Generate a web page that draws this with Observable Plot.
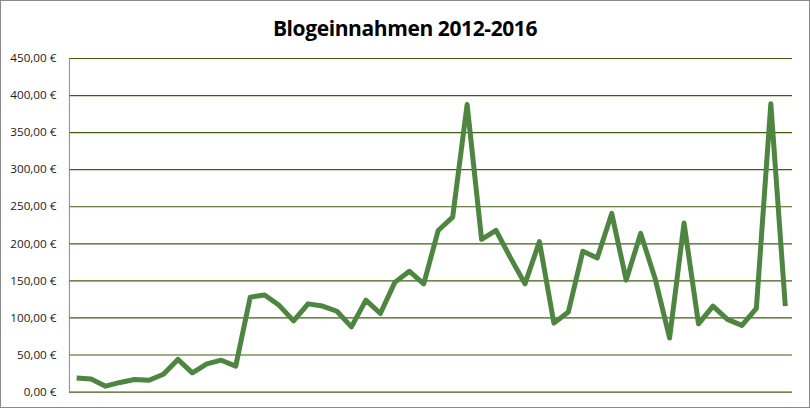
<!DOCTYPE html>
<html>
<head>
<meta charset="utf-8">
<script src="https://cdn.jsdelivr.net/npm/d3@7"></script>
<script src="https://cdn.jsdelivr.net/npm/@observablehq/plot@0.6"></script>
<style>
  html, body { margin: 0; padding: 0; background: #fff; }
  #chart {
    position: relative; width: 810px; height: 408px; box-sizing: border-box;
    border: 1px solid #8a8a8a; background: #fff; overflow: hidden;
  }
  #title {
    position: absolute; left: 0; top: 0; width: 100%; height: 44px;
    text-align: center; font-family: "Open Sans", sans-serif; font-weight: 700;
    font-size: 21px; line-height: 54px; color: #000; letter-spacing: -0.4px;
  }
  #plot { position: absolute; left: -1px; top: 44px; }
</style>
</head>
<body>
<div id="chart">
  <div id="title">Blogeinnahmen 2012-2016</div>
  <div id="plot"></div>
</div>
<script>
// Monthly blog income (€)
const months = d3.range(50);
const income = [19, 17.5, 8, 13, 17, 16, 24, 44, 26, 38, 43, 35,
  128, 131, 117, 96, 119, 116, 109, 88, 124, 106, 148, 163,
  146, 218, 236, 388, 206, 218, 181, 146, 203, 93, 108, 190,
  181, 241, 151, 214, 153, 73, 228, 92, 116, 98, 90, 113,
  389, 116];
const yTicks = [0, 50, 100, 150, 200, 250, 300, 350, 400, 450];

const data = months.map((m, i) => ({ m, v: income[i] }));
const fmt = d => d.toFixed(2).replace(".", ",") + " €";

const chart = Plot.plot({
  width: 810,
  height: 364,
  marginTop: 13,
  marginBottom: 17,
  marginLeft: 69,
  marginRight: 17,
  style: { fontFamily: "'Open Sans', sans-serif", fontSize: "11.7px", color: "#1a1a1a", background: "transparent" },
  x: { domain: [-0.5, 49.5], axis: null },
  y: { domain: [0, 450], ticks: yTicks, tickFormat: fmt, tickSize: 0, tickPadding: 13, label: null },
  marks: [
    Plot.ruleY(yTicks, { stroke: "#3f5f10", strokeWidth: 1.2 }),
    Plot.ruleX([-0.5], { stroke: "#8a8a8a", strokeWidth: 1 }),
    Plot.line(data, { x: "m", y: "v", stroke: "#4d8541", strokeWidth: 5, strokeLinejoin: "round", strokeLinecap: "butt" })
  ]
});
document.getElementById("plot").appendChild(chart);
</script>
</body>
</html>
